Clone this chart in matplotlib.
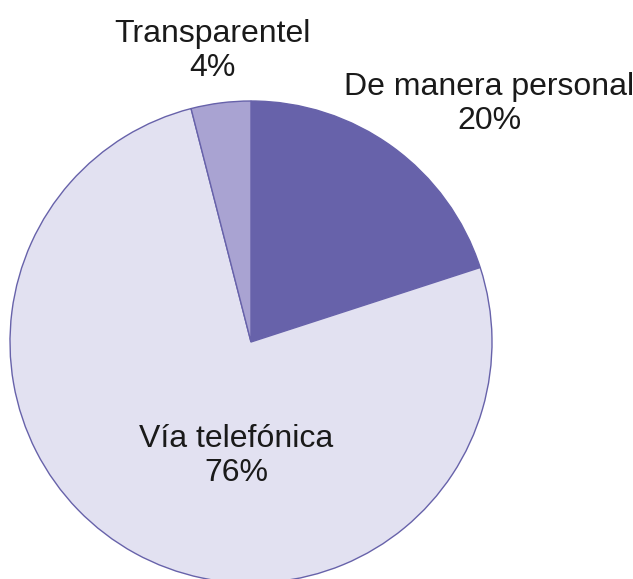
import matplotlib.pyplot as plt

# canales de atención
labels = ["De manera personal", "Vía telefónica", "Transparentel"]
shares = [20, 76, 4]
colors = ["#6762aa", "#e2e1f1", "#a9a3d2"]

plt.rcParams['font.family'] = ['Liberation Sans', 'DejaVu Sans']

fig = plt.figure(figsize=(6.33, 5.79), dpi=100)
ax = fig.add_axes([0, 0, 1, 1])

ax.pie(shares, colors=colors, startangle=90, counterclock=False,
       center=(251, 237), radius=241,
       wedgeprops=dict(edgecolor="#6762aa", linewidth=1.0))

# pie() fija sus propios límites, así que se ajustan después
ax.set_aspect('auto')
ax.set_xlim(0, 633)
ax.set_ylim(0, 579)
ax.axis('off')

# posiciones de las etiquetas
label_pos = [(489, 475), (236, 123), (212, 528)]
for name, val, (x, y) in zip(labels, shares, label_pos):
    ax.text(x, y, f"{name}\n{val}%", ha='center', va='center',
            fontsize=23, color='#1a1a1a', linespacing=1.18)

fig.savefig("out.png", dpi=100)
